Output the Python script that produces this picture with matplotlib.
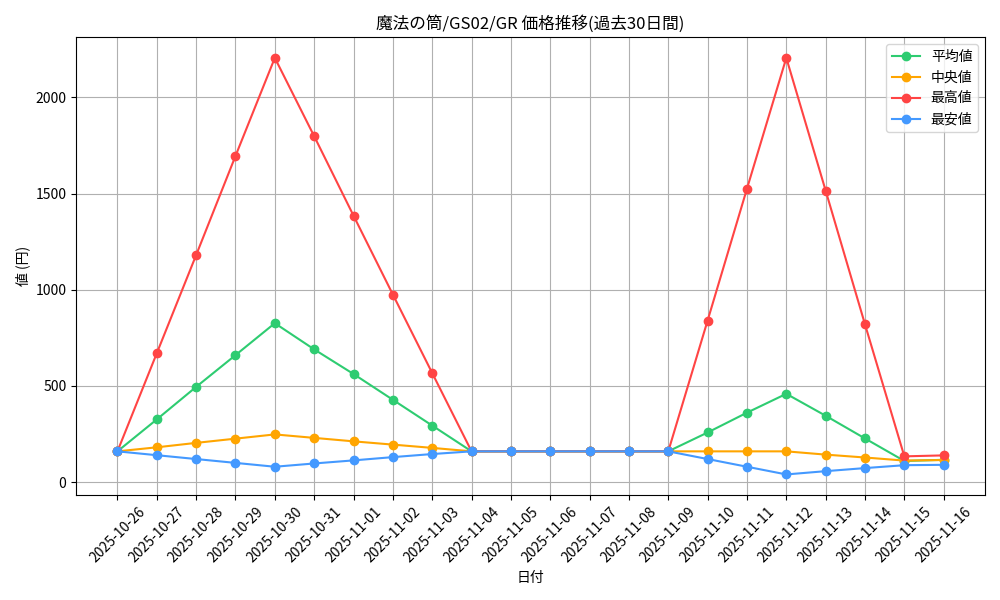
import matplotlib
matplotlib.use("Agg")
import matplotlib.pyplot as plt

plt.rcParams['font.family'] = ['Noto Sans CJK JP', 'DejaVu Sans']

dates = ["2025-10-26", "2025-10-27", "2025-10-28", "2025-10-29", "2025-10-30", "2025-10-31",
         "2025-11-01", "2025-11-02", "2025-11-03", "2025-11-04", "2025-11-05", "2025-11-06",
         "2025-11-07", "2025-11-08", "2025-11-09", "2025-11-10", "2025-11-11", "2025-11-12",
         "2025-11-13", "2025-11-14", "2025-11-15", "2025-11-16"]
avg = [160, 326, 495, 660, 826, 690, 562, 428, 294, 160, 160, 160, 160, 160, 160,
       258, 361, 459, 345, 227, 110, 116]
med = [160, 181, 204, 226, 248, 230, 212, 195, 178, 160, 160, 160, 160, 160, 160,
       160, 160, 160, 143, 128, 112, 115]
high = [160, 670, 1180, 1695, 2205, 1798, 1385, 975, 567, 160, 160, 160, 160, 160, 160,
        840, 1525, 2205, 1515, 820, 134, 139]
low = [160, 140, 120, 100, 80, 97, 113, 130, 146, 160, 160, 160, 160, 160, 160,
       120, 80, 40, 57, 73, 88, 90]

fig, ax = plt.subplots(figsize=(10, 6), dpi=100)
ax.plot(dates, avg, marker='o', color='#2ecc71', label='平均値')
ax.plot(dates, med, marker='o', color='#ffa500', label='中央値')
ax.plot(dates, high, marker='o', color='#ff4444', label='最高値')
ax.plot(dates, low, marker='o', color='#4499ff', label='最安値')

ax.set_title('魔法の筒/GS02/GR 価格推移(過去30日間)')
ax.set_xlabel('日付')
ax.set_ylabel('値 (円)')
ax.grid(True)
ax.legend(loc='upper right')
plt.xticks(rotation=45)
plt.tight_layout()
plt.savefig('out.png')
